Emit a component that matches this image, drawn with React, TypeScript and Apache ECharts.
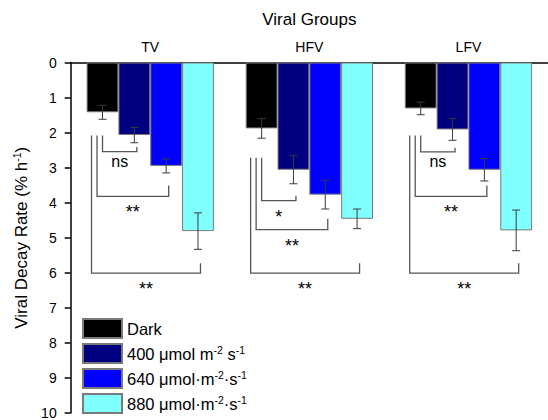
import React, { useEffect, useRef } from "react";
import * as echarts from "echarts";

const categories = ["TV", "HFV", "LFV"];
const seriesNames = ["Dark", "400 μmol m-2 s-1", "640 μmol·m-2·s-1", "880 μmol·m-2·s-1"];
const seriesColors = ["#000000", "#000080", "#0000FF", "#80FFFF"];

const darkMeans = [1.42, 1.88, 1.31];
const darkErr = [0.2, 0.28, 0.18];
const p400Means = [2.07, 3.06, 1.91];
const p400Err = [0.22, 0.4, 0.31];
const p640Means = [2.95, 3.77, 3.06];
const p640Err = [0.2, 0.41, 0.32];
const p880Means = [4.81, 4.46, 4.79];
const p880Err = [0.52, 0.28, 0.58];

const yTicks = [0, 10, 1]; // min, max, interval

// significance brackets
const bracketGroup = [0, 0, 0, 1, 1, 1, 2, 2, 2];
const bracketFrom = [0, 0, 0, 0, 0, 0, 0, 0, 0];
const bracketTo = [1, 2, 3, 1, 2, 3, 1, 2, 3];
const bracketLeftTop = [2.08, 2.08, 2.08, 2.72, 2.72, 2.72, 2.08, 2.08, 2.08];
const bracketRightTop = [2.41, 3.51, 5.73, 3.8, 4.46, 5.73, 2.43, 3.51, 5.73];
const bracketBottom = [2.54, 3.82, 6.01, 3.94, 4.77, 6.01, 2.55, 3.82, 6.01];
const bracketLabels = ["ns", "**", "**", "*", "**", "**", "ns", "**", "**"];

const allMeans = [darkMeans, p400Means, p640Means, p880Means];
const allErr = [darkErr, p400Err, p640Err, p880Err];

const FONT = "Liberation Sans, Arial, sans-serif";

function richify(s: string) {
  const parts = s.split(/(-\d)/);
  return parts
    .filter((p) => p.length > 0)
    .map((p) => (/^-\d$/.test(p) ? `{sup|${p}}` : `{t|${p}}`))
    .join("");
}

export default function App() {
  const ref = useRef<HTMLDivElement>(null);
  useEffect(() => {
    if (!ref.current) return;
    const chart = echarts.init(ref.current, undefined, { renderer: "svg" });
    const barSeries = seriesNames.map((name, i) => ({
      name,
      type: "bar",
      data: allMeans[i],
      barGap: "0%",
      barCategoryGap: "20%",
      itemStyle: { color: seriesColors[i], borderColor: "#7a7a7a", borderWidth: 1 },
      z: 2,
    }));

    const errData: number[][] = [];
    allMeans.forEach((arr, b) => arr.forEach((m, g) => errData.push([g, b, m, allErr[b][g]])));

    const bracketData = bracketGroup.map((g, i) => [
      g,
      bracketFrom[i],
      bracketTo[i],
      bracketLeftTop[i],
      bracketRightTop[i],
      bracketBottom[i],
    ]);

    const barCenter = (api: any, g: number, b: number) => {
      const c = api.coord([g, 0]);
      const band = api.size([1, 0])[0];
      const bw = (band * 0.8) / 4;
      return c[0] + (b - 1.5) * bw;
    };

    const option: any = {
      animation: false,
      grid: { left: 70.7, top: 62.5, width: 480.3, height: 353.5 },
      xAxis: {
        type: "category",
        data: categories,
        position: "top",
        name: "Viral Groups",
        nameLocation: "middle",
        nameGap: 35,
        nameTextStyle: { fontFamily: FONT, fontSize: 17, color: "#000" },
        axisLine: { onZero: false, lineStyle: { color: "#000", width: 1.5 } },
        axisTick: { alignWithLabel: true, length: 6, lineStyle: { color: "#000", width: 1.5 } },
        axisLabel: { fontFamily: FONT, fontSize: 14, color: "#000", margin: 9 },
      },
      yAxis: {
        type: "value",
        inverse: true,
        min: yTicks[0],
        max: yTicks[1],
        interval: yTicks[2],
        name: "{t|Viral Decay Rate (% h}{sup|-1}{t|)}",
        nameLocation: "middle",
        nameRotate: 90,
        nameGap: 38,
        nameTextStyle: {
          rich: {
            t: { fontFamily: FONT, fontSize: 17, color: "#000", lineHeight: 20 },
            sup: { fontFamily: FONT, fontSize: 10.5, color: "#000", lineHeight: 20, verticalAlign: "top" },
          },
        },
        splitLine: { show: false },
        axisLine: { show: true, lineStyle: { color: "#000", width: 1.5 } },
        axisTick: { show: true, length: 6, lineStyle: { color: "#000", width: 1.5 } },
        axisLabel: { fontFamily: FONT, fontSize: 14, color: "#000", margin: 14 },
      },
      legend: {
        orient: "vertical",
        left: 82,
        top: 318,
        height: 200,
        padding: 0,
        itemWidth: 39,
        itemHeight: 19,
        itemGap: 4,
        icon: "rect",
        data: seriesNames,
        formatter: (name: string) => richify(name),
        textStyle: {
          rich: {
            t: { fontFamily: FONT, fontSize: 16.5, color: "#000", lineHeight: 19 },
            sup: { fontFamily: FONT, fontSize: 10.5, color: "#000", lineHeight: 19, verticalAlign: "top" },
          },
        },
      },
      series: [
        ...barSeries,
        {
          type: "custom",
          name: "err",
          data: errData,
          encode: { x: 0, y: 2 },
          z: 5,
          renderItem: (params: any, api: any) => {
            const g = api.value(0);
            const b = api.value(1);
            const m = api.value(2);
            const e = api.value(3);
            const x = barCenter(api, g, b);
            const y1 = api.coord([g, m - e])[1];
            const y2 = api.coord([g, m + e])[1];
            const style = { stroke: "#3a3a3a", lineWidth: 1 };
            return {
              type: "group",
              children: [
                { type: "line", shape: { x1: x, y1, x2: x, y2 }, style },
                { type: "line", shape: { x1: x - 4, y1, x2: x + 4, y2: y1 }, style },
                { type: "line", shape: { x1: x - 4, y1: y2, x2: x + 4, y2 }, style },
              ],
            };
          },
        },
        {
          type: "custom",
          name: "brackets",
          data: bracketData,
          encode: { x: 0, y: 5 },
          z: 6,
          renderItem: (params: any, api: any) => {
            const i = params.dataIndex;
            const g = api.value(0);
            const from = api.value(1);
            const to = api.value(2);
            const level = to - 1;
            const xl = barCenter(api, g, from) - level * 5.5;
            const xr = barCenter(api, g, to) + 2.5;
            const yl = api.coord([g, api.value(3)])[1];
            const yr = api.coord([g, api.value(4)])[1];
            const yb = api.coord([g, api.value(5)])[1];
            const label = bracketLabels[i];
            const isStar = label.startsWith("*");
            return {
              type: "group",
              children: [
                {
                  type: "polyline",
                  shape: { points: [[xl, yl], [xl, yb], [xr, yb], [xr, yr]] },
                  style: { stroke: "#555", lineWidth: 1.3, fill: null },
                },
                {
                  type: "text",
                  x: (xl + xr) / 2,
                  y: yb + (isStar ? 16 : 10),
                  style: {
                    text: label,
                    fontFamily: FONT,
                    fontSize: isStar ? 18 : 16,
                    fill: "#000",
                    align: "center",
                    verticalAlign: "middle",
                  },
                },
              ],
            };
          },
        },
      ],
    };
    chart.setOption(option);
    return () => chart.dispose();
  }, []);
  return (
    <div
      ref={ref}
      style={{ position: "absolute", left: 0, top: 0, width: 548, height: 420, background: "#fff" }}
    />
  );
}
